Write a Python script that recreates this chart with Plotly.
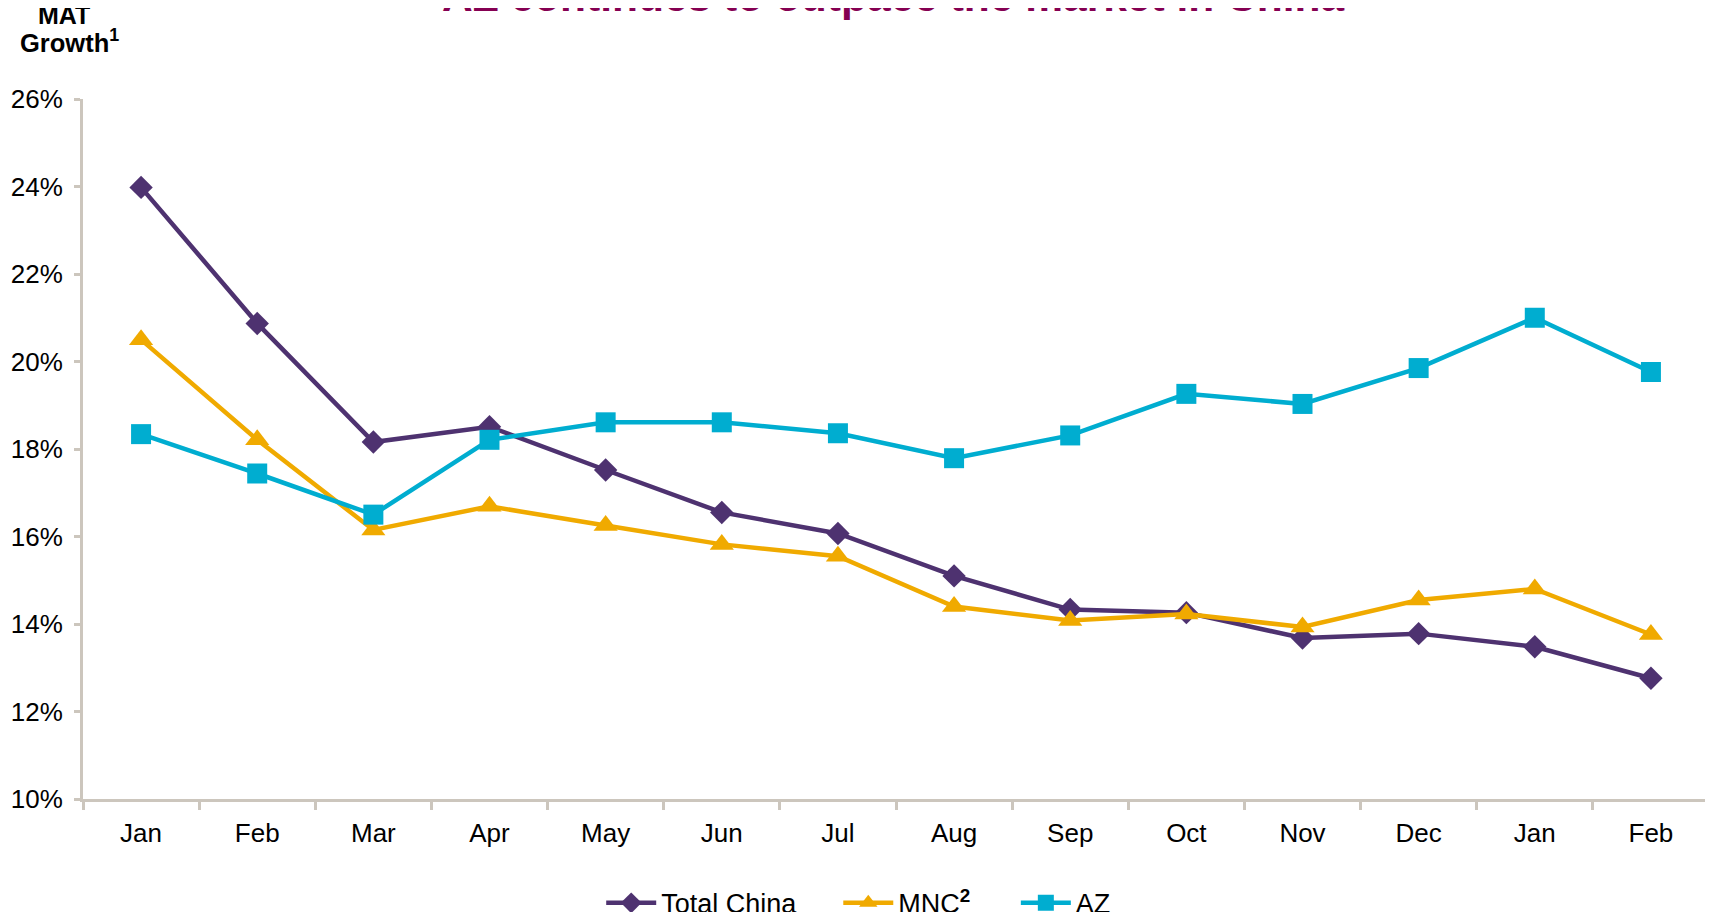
import plotly.graph_objects as go

months = ["Jan", "Feb", "Mar", "Apr", "May", "Jun", "Jul", "Aug", "Sep", "Oct", "Nov", "Dec", "Jan", "Feb"]
total_china = [23.98, 20.87, 18.16, 18.51, 17.52, 16.55, 16.07, 15.10, 14.33, 14.26, 13.68, 13.78, 13.48, 12.76]
mnc = [20.50, 18.21, 16.15, 16.69, 16.25, 15.82, 15.55, 14.40, 14.08, 14.23, 13.93, 14.55, 14.80, 13.76]
az = [18.34, 17.44, 16.50, 18.21, 18.61, 18.61, 18.36, 17.79, 18.31, 19.26, 19.03, 19.85, 21.00, 19.76]

x = list(range(len(months)))
axis_col = "#CCC6BD"

fig = go.Figure()
fig.add_trace(go.Scatter(
    x=x, y=total_china, name="Total China", mode="lines+markers", legend="legend",
    line=dict(color="#4E3270", width=4.5),
    marker=dict(symbol="diamond", size=18, color="#4E3270"),
))
fig.add_trace(go.Scatter(
    x=x, y=mnc, name="MNC<b><sup>2</sup></b>", mode="lines+markers", legend="legend2",
    line=dict(color="#F0AA00", width=4.5),
    marker=dict(symbol="triangle-up", size=21, color="#F0AA00"),
))
fig.add_trace(go.Scatter(
    x=x, y=az, name="AZ", mode="lines+markers", legend="legend3",
    line=dict(color="#00ADD0", width=4.5),
    marker=dict(symbol="square", size=20, color="#00ADD0"),
))

leg = dict(orientation="h", xanchor="left", y=-0.149, yanchor="middle",
           font=dict(size=27), itemwidth=50, bgcolor="rgba(0,0,0,0)")

# page body adds an 8px offset, so the figure is 8px smaller than the window
fig.update_layout(
    width=1705, height=904,
    margin=dict(l=75, r=4, t=91, b=113, autoexpand=False),
    paper_bgcolor="white", plot_bgcolor="white",
    font=dict(family="Arial, Liberation Sans, sans-serif", color="black"),
    showlegend=True,
    legend=dict(leg, x=0.3187),
    legend2=dict(leg, x=0.4645),
    legend3=dict(leg, x=0.5737),
    annotations=[
        dict(
            text="<b>AZ continues to outpace the market in China</b>",
            xref="paper", yref="paper", x=0.498, y=1.146,
            xanchor="center", yanchor="middle", showarrow=False,
            font=dict(size=42.5, color="#850052"),
        ),
        dict(
            text="<b>MAT</b>", xref="paper", yref="paper",
            x=-0.0117, y=1.12, xanchor="center", yanchor="middle",
            showarrow=False, font=dict(size=25),
        ),
        dict(
            text="<b>Growth<sup>1</sup></b>", xref="paper", yref="paper",
            x=-0.008, y=1.0829, xanchor="center", yanchor="middle",
            showarrow=False, font=dict(size=25.5),
        ),
    ],
)

fig.update_xaxes(
    range=[-0.5, 13.5], tickvals=x, ticktext=months, automargin=False,
    showline=True, linecolor=axis_col, linewidth=3,
    ticks="", showgrid=False, zeroline=False,
    tickfont=dict(size=26), ticklabelstandoff=9,
    minor=dict(tickvals=[i - 0.5 for i in range(len(months) + 1)], ticks="outside",
               ticklen=8, tickwidth=3, tickcolor=axis_col, showgrid=False),
)
fig.update_yaxes(
    range=[10, 26], dtick=2, ticksuffix="%", automargin=False,
    showline=True, linecolor=axis_col, linewidth=3,
    ticks="outside", ticklen=6, tickwidth=3, tickcolor=axis_col,
    showgrid=False, zeroline=False,
    tickfont=dict(size=26), ticklabelstandoff=6,
)

fig.write_html("out.html")
